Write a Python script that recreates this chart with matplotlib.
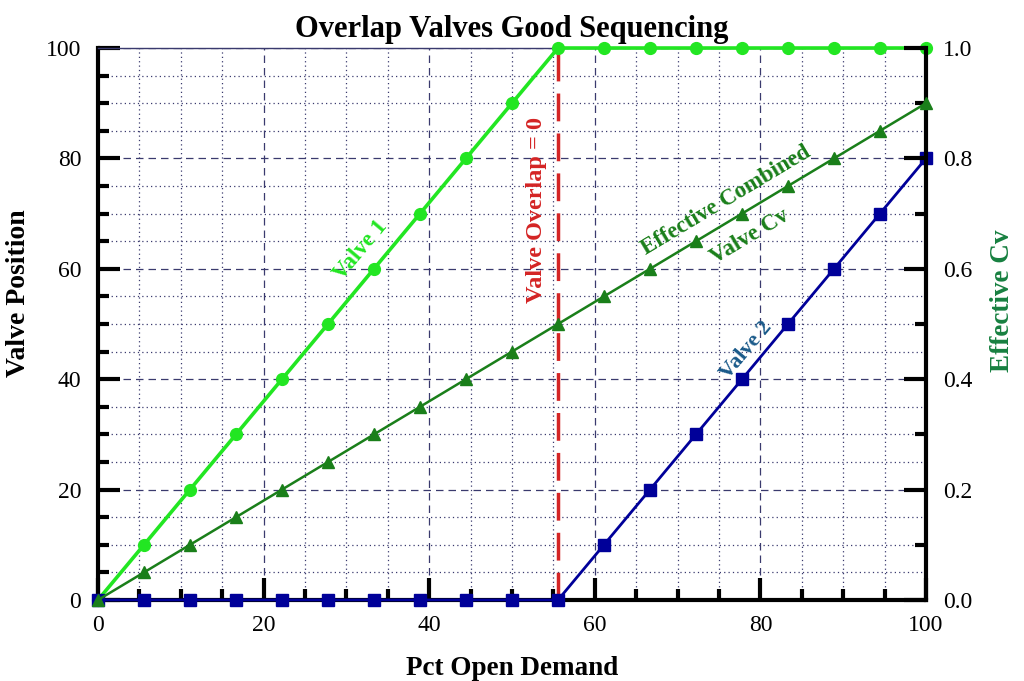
import matplotlib
matplotlib.use("Agg")
import matplotlib.pyplot as plt
from matplotlib.ticker import MultipleLocator, FormatStrFormatter

plt.rcParams['font.family'] = ['Liberation Serif', 'DejaVu Serif']

# ---- data ----
demand = [0, 5.56, 11.11, 16.67, 22.22, 27.78, 33.33, 38.89, 44.44, 50.0,
          55.56, 61.11, 66.67, 72.22, 77.78, 83.33, 88.89, 94.44, 100.0]
valve1 = [0, 10, 20, 30, 40, 50, 60, 70, 80, 90,
          100, 100, 100, 100, 100, 100, 100, 100, 100]
valve2 = [0, 0, 0, 0, 0, 0, 0, 0, 0, 0,
          0, 10, 20, 30, 40, 50, 60, 70, 80]
eff_cv = [0.0, 0.05, 0.10, 0.15, 0.20, 0.25, 0.30, 0.35, 0.40, 0.45,
          0.50, 0.55, 0.60, 0.65, 0.70, 0.75, 0.80, 0.85, 0.90]
overlap_x = 55.56
x_ticks = [0, 20, 40, 60, 80, 100]
y_ticks = [0, 20, 40, 60, 80, 100]
cv_ticks = [0.0, 0.2, 0.4, 0.6, 0.8, 1.0]

C_V1 = '#22e622'
C_V2 = '#000099'
C_CV = '#1a7f1a'
C_RED = '#d42424'
C_GRID = '#3a3a6e'

fig = plt.figure(figsize=(10.24, 6.81), dpi=100)
ax = fig.add_axes([0.0957, 0.119, 0.8086, 0.8105])
ax2 = ax.twinx()

ax.set_xlim(0, 100)
ax.set_ylim(0, 100)
ax2.set_ylim(0, 1.0)

# grid
ax.set_xticks(x_ticks)
ax.set_yticks(y_ticks)
ax.xaxis.set_minor_locator(MultipleLocator(5))
ax.yaxis.set_minor_locator(MultipleLocator(5))
ax.grid(which='major', color=C_GRID, linestyle=(0, (6, 4)), linewidth=0.9)
ax.grid(which='minor', color=C_GRID, linestyle=(0, (1, 2.5)), linewidth=0.9)
ax.set_axisbelow(True)

# lines
ax.plot([overlap_x, overlap_x], [0, 100], color=C_RED, linewidth=2.5,
        linestyle=(0, (8, 3.5)), zorder=3)
ax.plot(demand, valve1, color=C_V1, linewidth=2.6, marker='o',
        markersize=8.5, zorder=4, clip_on=False)
ax.plot(demand, valve2, color=C_V2, linewidth=2.0, marker='s',
        markersize=9, zorder=5, clip_on=False)
ax2.plot(demand, eff_cv, color=C_CV, linewidth=1.8, marker='^',
         markersize=9, zorder=4, clip_on=False)

# spines
for s in ['left', 'bottom']:
    ax.spines[s].set_linewidth(3)
    ax.spines[s].set_color('black')
ax.spines['top'].set_linewidth(1)
ax.spines['top'].set_color(C_GRID)
ax.spines['right'].set_visible(False)
for s in ['left', 'bottom', 'top']:
    ax2.spines[s].set_visible(False)
ax2.spines['right'].set_linewidth(3)
ax2.spines['right'].set_color('black')

# ticks
ax.tick_params(which='major', direction='in', length=16, width=3,
               labelsize=17, top=False, right=False, pad=11)
ax.tick_params(which='minor', direction='in', length=8, width=3,
               top=False, right=False)
ax.tick_params(axis='y', which='major', pad=12)
ax2.set_yticks(cv_ticks)
ax2.yaxis.set_minor_locator(MultipleLocator(0.1))
ax2.yaxis.set_major_formatter(FormatStrFormatter('%.1f'))
ax2.tick_params(which='major', direction='in', length=16, width=3,
                labelsize=17, pad=12)
ax2.tick_params(which='minor', direction='in', length=8, width=3)

# labels
ax.set_title('Overlap Valves Good Sequencing', fontsize=22, fontweight='bold',
             pad=8)
ax.set_xlabel('Pct Open Demand', fontsize=19.5, fontweight='bold', labelpad=14)
ax.set_ylabel('Valve Position', fontsize=20, fontweight='bold')
ax.yaxis.set_label_coords(-0.081, 0.556)
ax2.set_ylabel('Effective Cv', fontsize=19.5, fontweight='bold', color='#178040')
ax2.yaxis.set_label_coords(1.077, 0.542)

# annotations
ax.text(31.7, 63.4, 'Valve 1', color=C_V1, fontsize=16.5, fontweight='bold',
        rotation=50, ha='center', va='center', rotation_mode='anchor', zorder=6)
ax.text(53.0, 70.7, 'Valve Overlap = 0', color=C_RED, fontsize=17.5,
        fontweight='bold', rotation=90, ha='center', va='center', zorder=6)
ax.text(75.8, 72.3, 'Effective Combined', color=C_CV, fontsize=16.5,
        fontweight='bold', rotation=31, ha='center', va='center',
        rotation_mode='anchor', zorder=6)
ax.text(78.7, 65.8, 'Valve Cv', color=C_CV, fontsize=16.5,
        fontweight='bold', rotation=31, ha='center', va='center',
        rotation_mode='anchor', zorder=6)
ax.text(78.3, 45.3, 'Valve 2', color='#1a5a8a', fontsize=16, fontweight='bold',
        rotation=50, ha='center', va='center', rotation_mode='anchor', zorder=6)

fig.savefig('out.png', dpi=100, facecolor='white')
